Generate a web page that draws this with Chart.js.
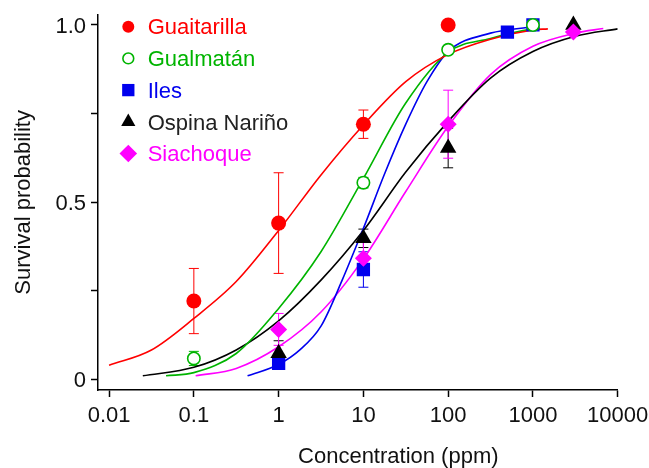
<!DOCTYPE html>
<html>
<head>
<meta charset="utf-8">
<script src="https://cdn.jsdelivr.net/npm/chart.js"></script>
<style>
    html, body { margin: 0; padding: 0; background: #fff; }
    #wrap { width: 649px; height: 468px; }
</style>
</head>
<body>
<div id="wrap"><canvas id="chart-survival" width="649" height="468"></canvas></div>
<script>
/* global Chart */

const siteNames = ['Guaitarilla', 'Gualmatán', 'Iles', 'Ospina Nariño', 'Siachoque'];

// observed survival, mean and error bar half-length
const guaitarillaConc = [0.1, 1, 10, 100];
const guaitarillaSurv = [0.221, 0.441, 0.72, 1.0];
const guaitarillaErr = [0.092, 0.142, 0.04, 0];

const gualmatanConc = [0.1, 10, 100, 1000];
const gualmatanSurv = [0.059, 0.555, 0.93, 1.0];
const gualmatanErr = [0.02, 0.015, 0.01, 0];

const ilesConc = [1, 10, 500, 1000];
const ilesSurv = [0.045, 0.31, 0.98, 1.0];
const ilesErr = [0.012, 0.05, 0, 0];

const ospinaConc = [1, 10, 100, 3000];
const ospinaSurv = [0.074, 0.398, 0.653, 1.0];
const ospinaErr = [0.035, 0.026, 0.056, 0];

const siachoqueConc = [1, 10, 100, 3000];
const siachoqueSurv = [0.141, 0.342, 0.72, 0.98];
const siachoqueErr = [0.045, 0.045, 0.096, 0];

// fitted curves
const guaitarillaFitConc = [0.01, 0.0316, 0.1, 0.316, 1, 3.16, 10, 31.6, 100, 316, 1000, 1500];
const guaitarillaFitSurv = [0.04, 0.083, 0.172, 0.276, 0.42, 0.577, 0.718, 0.84, 0.917, 0.96, 0.986, 0.989];

const gualmatanFitConc = [0.047, 0.1, 0.316, 1, 3.16, 10, 31.6, 100, 316, 1000, 1200];
const gualmatanFitSurv = [0.01, 0.019, 0.073, 0.2, 0.36, 0.567, 0.78, 0.923, 0.962, 0.989, 0.991];

const ilesFitConc = [0.43, 1, 1.78, 3.16, 5.62, 10, 17.8, 31.6, 56.2, 100, 316, 1000];
const ilesFitSurv = [0.01, 0.042, 0.083, 0.15, 0.28, 0.426, 0.58, 0.72, 0.84, 0.925, 0.977, 0.995];

const ospinaFitConc = [0.025, 0.1, 0.316, 1, 3.16, 10, 31.6, 100, 316, 1000, 3160, 10000];
const ospinaFitSurv = [0.01, 0.034, 0.083, 0.165, 0.28, 0.42, 0.585, 0.728, 0.85, 0.925, 0.968, 0.989];

const siachoqueFitConc = [0.105, 0.316, 1, 3.16, 10, 31.6, 100, 316, 1000, 3160, 6760];
const siachoqueFitSurv = [0.01, 0.031, 0.092, 0.19, 0.34, 0.53, 0.714, 0.86, 0.94, 0.977, 0.99];

const xTickValues = [0.01, 0.1, 1, 10, 100, 1000, 10000];
const xTickLabels = ['0.01', '0.1', '1', '10', '100', '1000', '10000'];
const yTickValues = [0, 0.25, 0.5, 0.75, 1];
const yTickLabels = ['0', '', '0.5', '', '1.0'];

const xAxisTitle = 'Concentration (ppm)';
const yAxisTitle = 'Survival probability';

// styles
const FONT = '"Liberation Sans", Arial, Helvetica, sans-serif';
const colors = ['#ff0000', '#00b400', '#0000ee', '#000000', '#ff00ff'];
const textColors = ['#ff0000', '#00b400', '#0000ee', '#222222', '#ff00ff'];
const markerStyles = ['circle', 'circle', 'rect', 'triangle', 'rectRot'];
const markerRadius = [7.5, 6.2, 9.4, 9.5, 8.5];
const legendRadius = [6, 5.4, 8.7, 8.2, 8.8];
const drawOrder = [4, 1, 3, 2, 0];

const observed = [
    [guaitarillaConc, guaitarillaSurv, guaitarillaErr],
    [gualmatanConc, gualmatanSurv, gualmatanErr],
    [ilesConc, ilesSurv, ilesErr],
    [ospinaConc, ospinaSurv, ospinaErr],
    [siachoqueConc, siachoqueSurv, siachoqueErr],
];

const fitted = [
    [guaitarillaFitConc, guaitarillaFitSurv],
    [gualmatanFitConc, gualmatanFitSurv],
    [ilesFitConc, ilesFitSurv],
    [ospinaFitConc, ospinaFitSurv],
    [siachoqueFitConc, siachoqueFitSurv],
];

function toPoints(xs, ys) {
    return xs.map((x, i) => ({ x, y: ys[i] }));
}

function drawMarker(ctx, style, x, y, r) {
    ctx.beginPath();
    if (style === 'circle') {
        ctx.arc(x, y, r, 0, Math.PI * 2);
    } else if (style === 'rect') {
        const s = r * Math.SQRT1_2;
        ctx.rect(x - s, y - s, 2 * s, 2 * s);
    } else if (style === 'triangle') {
        ctx.moveTo(x, y - r);
        ctx.lineTo(x + r * Math.sin(Math.PI * 2 / 3), y + r / 2);
        ctx.lineTo(x - r * Math.sin(Math.PI * 2 / 3), y + r / 2);
        ctx.closePath();
    } else {
        ctx.moveTo(x - r, y);
        ctx.lineTo(x, y - r);
        ctx.lineTo(x + r, y);
        ctx.lineTo(x, y + r);
        ctx.closePath();
    }
}

const errorBars = {
    id: 'errorBars',
    beforeDatasetsDraw(chart) {
        const { ctx } = chart;
        const xs = chart.scales.x;
        const ys = chart.scales.y;
        ctx.save();
        ctx.lineWidth = 1;
        chart.data.datasets.forEach(ds => {
            if (!ds.errors) {
                return;
            }
            ctx.strokeStyle = ds.errorColor;
            ds.data.forEach((p, i) => {
                const e = ds.errors[i];
                if (!e) {
                    return;
                }
                const px = xs.getPixelForValue(p.x);
                const top = ys.getPixelForValue(p.y + e);
                const bottom = ys.getPixelForValue(p.y - e);
                ctx.beginPath();
                ctx.moveTo(px, top);
                ctx.lineTo(px, bottom);
                ctx.moveTo(px - 5, top);
                ctx.lineTo(px + 5, top);
                ctx.moveTo(px - 5, bottom);
                ctx.lineTo(px + 5, bottom);
                ctx.stroke();
            });
        });
        ctx.restore();
    },
};

const legendAndTitle = {
    id: 'legendAndTitle',
    afterDraw(chart) {
        const { ctx, chartArea } = chart;
        ctx.save();
        ctx.font = '22px ' + FONT;
        ctx.textBaseline = 'alphabetic';
        siteNames.forEach((name, i) => {
            const y = chartArea.top + 12 + i * 31.7;
            const x = chartArea.left + 30.3;
            drawMarker(ctx, markerStyles[i], x, y, legendRadius[i]);
            if (i === 1) {
                ctx.fillStyle = '#ffffff';
                ctx.fill();
                ctx.strokeStyle = colors[i];
                ctx.lineWidth = 1.6;
                ctx.stroke();
            } else {
                ctx.fillStyle = colors[i];
                ctx.fill();
            }
            ctx.fillStyle = textColors[i];
            ctx.textAlign = 'left';
            ctx.fillText(name, chartArea.left + 49.7, y + 7.7);
        });

        ctx.fillStyle = '#111111';
        ctx.textAlign = 'center';
        ctx.fillText(xAxisTitle, chartArea.left + 300.3, chart.height - 4.7);
        ctx.restore();
    },
};

const datasets = [];

observed.forEach(([xs, ys, errs], i) => {
    const hollow = i === 1;
    datasets.push({
        label: siteNames[i],
        data: toPoints(xs, ys),
        errors: errs,
        errorColor: colors[i],
        showLine: false,
        pointStyle: markerStyles[i],
        pointRadius: markerRadius[i],
        pointHoverRadius: markerRadius[i],
        pointBackgroundColor: hollow ? '#ffffff' : colors[i],
        pointBorderColor: colors[i],
        pointBorderWidth: hollow ? 1.6 : 0,
        order: drawOrder[i],
    });
});

fitted.forEach(([xs, ys], i) => {
    datasets.push({
        label: siteNames[i] + ' fit',
        data: toPoints(xs, ys),
        showLine: true,
        borderColor: colors[i],
        borderWidth: 1.6,
        pointRadius: 0,
        pointHoverRadius: 0,
        cubicInterpolationMode: 'monotone',
        fill: false,
        order: 10,
    });
});

new Chart(document.getElementById('chart-survival'), {
    type: 'scatter',
    data: { datasets },
    options: {
        responsive: false,
        animation: false,
        devicePixelRatio: 1,
        layout: {
            padding: 0,
        },
        plugins: {
            legend: { display: false },
            tooltip: { enabled: false },
        },
        scales: {
            x: {
                type: 'logarithmic',
                min: 0.0074,
                max: 10000,
                afterBuildTicks: scale => {
                    scale.ticks = xTickValues.map(v => ({ value: v }));
                },
                afterFit: scale => {
                    scale.height = 78;
                    scale.paddingLeft = 0;
                    scale.paddingRight = 31.3;
                },
                ticks: {
                    autoSkip: false,
                    maxRotation: 0,
                    padding: 6,
                    color: '#111111',
                    font: { family: FONT, size: 22 },
                    callback: (value, index) => xTickLabels[index],
                },
                grid: {
                    drawOnChartArea: false,
                    drawTicks: true,
                    tickLength: 7,
                    tickColor: '#000000',
                    tickWidth: 1.5,
                },
                border: { display: true, color: '#000000', width: 1.5 },
            },
            y: {
                min: -0.03,
                max: 1.029,
                afterBuildTicks: scale => {
                    scale.ticks = yTickValues.map(v => ({ value: v }));
                },
                afterFit: scale => {
                    scale.width = 98;
                    scale.paddingTop = 14.7;
                    scale.paddingBottom = 0;
                },
                ticks: {
                    padding: 5,
                    labelOffset: 2,
                    color: '#111111',
                    font: { family: FONT, size: 22 },
                    callback: (value, index) => yTickLabels[index],
                },
                grid: {
                    drawOnChartArea: false,
                    drawTicks: true,
                    tickLength: 7,
                    tickColor: '#000000',
                    tickWidth: 1.5,
                },
                border: { display: true, color: '#000000', width: 1.5 },
                title: {
                    display: true,
                    text: yAxisTitle,
                    color: '#111111',
                    font: { family: FONT, size: 22 },
                    padding: { top: 11, bottom: 0 },
                },
            },
        },
    },
    plugins: [errorBars, legendAndTitle],
});
</script>
</body>
</html>
